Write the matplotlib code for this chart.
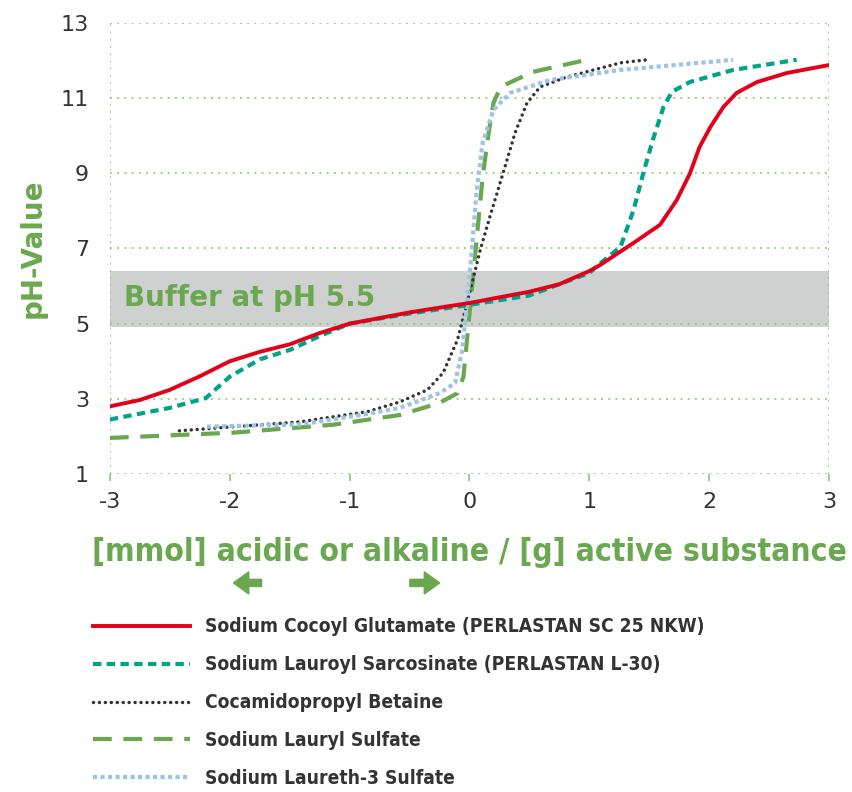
import matplotlib
matplotlib.use('Agg')
import matplotlib.pyplot as plt
from matplotlib.patches import FancyArrow

# data
x_glut = [-3.0, -2.75, -2.5, -2.25, -2.0, -1.75, -1.5, -1.25, -1.0, -0.5, 0.0, 0.5, 0.75, 1.0, 1.09, 1.37, 1.59, 1.73, 1.84, 1.92, 2.01, 2.12, 2.23, 2.4, 2.65, 3.0]
y_glut = [2.8, 2.97, 3.24, 3.6, 4.0, 4.25, 4.45, 4.75, 5.0, 5.3, 5.55, 5.85, 6.05, 6.4, 6.56, 7.15, 7.63, 8.29, 9.0, 9.7, 10.23, 10.77, 11.14, 11.43, 11.67, 11.88]

x_sarc = [-3.0, -2.5, -2.2, -2.0, -1.75, -1.5, -1.25, -1.0, -0.5, 0.0, 0.5, 1.0, 1.09, 1.26, 1.37, 1.45, 1.53, 1.62, 1.69, 1.84, 2.2, 2.73]
y_sarc = [2.45, 2.76, 3.02, 3.59, 4.05, 4.3, 4.67, 5.0, 5.27, 5.5, 5.75, 6.35, 6.6, 7.04, 8.03, 9.0, 9.89, 10.77, 11.17, 11.43, 11.75, 12.02]

x_beta = [-2.42, -1.41, -0.85, -0.58, -0.35, -0.22, -0.1, -0.02, 0.09, 0.17, 0.28, 0.38, 0.48, 0.59, 0.81, 1.26, 1.48]
y_beta = [2.15, 2.39, 2.66, 2.92, 3.24, 3.69, 4.57, 5.55, 6.96, 7.84, 9.0, 10.07, 10.87, 11.3, 11.56, 11.94, 12.02]

x_sls = [-3.0, -1.97, -1.14, -0.58, -0.25, -0.1, -0.05, -0.01, 0.03, 0.07, 0.11, 0.16, 0.2, 0.26, 0.53, 0.98]
y_sls = [1.96, 2.1, 2.31, 2.57, 2.89, 3.15, 3.59, 4.91, 6.24, 7.57, 8.9, 10.07, 10.87, 11.3, 11.7, 12.02]

x_sles = [-2.19, -1.41, -0.85, -0.58, -0.25, -0.12, -0.06, -0.02, 0.02, 0.06, 0.11, 0.2, 0.34, 0.67, 1.26, 2.2]
y_sles = [2.26, 2.32, 2.6, 2.76, 3.15, 3.42, 4.3, 5.55, 6.96, 8.56, 9.81, 10.69, 11.14, 11.48, 11.75, 12.02]

labels = ['Sodium Cocoyl Glutamate (PERLASTAN SC 25 NKW)',
          'Sodium Lauroyl Sarcosinate (PERLASTAN L-30)',
          'Cocamidopropyl Betaine',
          'Sodium Lauryl Sulfate',
          'Sodium Laureth-3 Sulfate']

x_ticks = [-3, -2, -1, 0, 1, 2, 3]
y_ticks = [1, 3, 5, 7, 9, 11, 13]
buffer_lo, buffer_hi = 4.9, 6.4

plt.rcParams['axes.unicode_minus'] = False
green = '#6aa84f'
grid_green = '#93c47d'

fig = plt.figure(figsize=(8.52, 7.92), dpi=100)
ax = fig.add_axes([0.129, 0.4015, 0.844, 0.5695])

ax.axhspan(buffer_lo, buffer_hi, color='#cfd1d0', zorder=0, lw=0)
ax.text(-2.88, 5.68, 'Buffer at pH 5.5', color=green, fontsize=20,
        fontweight='bold', va='center', ha='left')

l1, = ax.plot(x_glut, y_glut, color='#e2001a', lw=2.8, zorder=5)
l2, = ax.plot(x_sarc, y_sarc, color='#00a386', lw=3, dashes=(2, 1.3), zorder=4)
l3, = ax.plot(x_beta, y_beta, color='#333333', lw=2.5, dashes=(0.01, 1.7), zorder=3,
              dash_capstyle='round')
l4, = ax.plot(x_sls, y_sls, color=green, lw=3, dashes=(4.5, 2.8), zorder=2)
l5, = ax.plot(x_sles, y_sles, color='#9dc3e6', lw=3, dashes=(1, 0.8), zorder=3)

ax.set_xlim(-3, 3)
ax.set_ylim(1, 13)
ax.set_xticks(x_ticks)
ax.set_yticks(y_ticks)
for s in ax.spines.values():
    s.set_visible(False)
for yy in y_ticks:
    ax.axhline(yy, color=grid_green, lw=1.3, linestyle=(0, (1, 3)), zorder=1)
for xx in (-3, 3):
    ax.axvline(xx, color=grid_green, lw=1.3, linestyle=(0, (1, 3)), zorder=1)
ax.tick_params(axis='y', length=0, pad=15, labelsize=16, labelcolor='#333333')
ax.tick_params(axis='x', length=5, width=1.2, color=grid_green, pad=8,
               labelsize=16, labelcolor='#333333')
ax.set_ylabel('pH-Value', color=green, fontsize=20, fontweight='bold', labelpad=10)

fig.text(0.551, 0.302, '[mmol] acidic or alkaline / [g] active substance',
         color=green, fontsize=22.8, fontweight='bold', fontstretch='condensed',
         ha='center', va='center')

# arrows
fig.patches.append(FancyArrow(0.307, 0.264, -0.033, 0, width=0.009, head_width=0.028,
                              head_length=0.018, length_includes_head=True,
                              color=green, transform=fig.transFigure, figure=fig))
fig.patches.append(FancyArrow(0.481, 0.264, 0.035, 0, width=0.009, head_width=0.028,
                              head_length=0.018, length_includes_head=True,
                              color=green, transform=fig.transFigure, figure=fig))

leg = fig.legend([l1, l2, l3, l4, l5], labels, loc='upper left',
                 bbox_to_anchor=(0.089, 0.2424), frameon=False, handlelength=5.05,
                 handletextpad=0.78, labelspacing=0.99,
                 prop={'weight': 'bold', 'size': 13.8, 'stretch': 'condensed'})
for t in leg.get_texts():
    t.set_color('#333333')

fig.savefig('out.png', dpi=100)
